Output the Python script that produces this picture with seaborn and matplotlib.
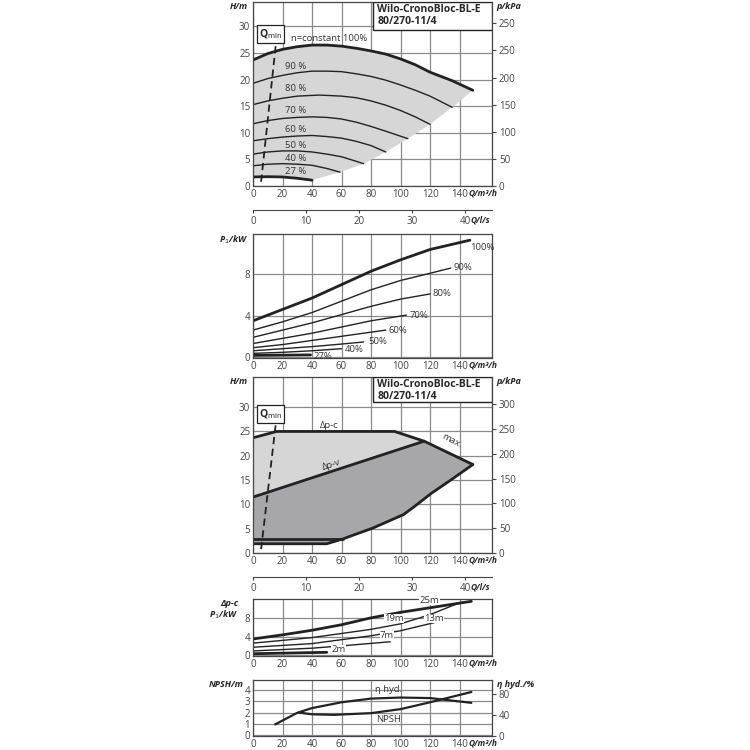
import numpy as np
import seaborn as sns
from matplotlib import pyplot as plt
from matplotlib.patches import Rectangle

sns.set_style("ticks")
plt.rcParams["font.family"] = ["Open Sans", "DejaVu Sans"]
plt.rcParams["font.size"] = 7

INK = "#222222"
GRID = "#8a8a8a"
XMAX = 162

# ---- panel 1: H over Q for speed steps
h_100_q = [0, 10, 20, 30, 40, 50, 60, 70, 80, 90, 100, 110, 120, 135, 149]
h_100 = [23.7, 24.9, 25.7, 26.2, 26.5, 26.5, 26.3, 25.9, 25.4, 24.8, 23.9, 22.8, 21.4, 19.8, 18.0]
h_curves = {
    "90 %": ([0, 10, 20, 30, 40, 50, 60, 70, 80, 90, 100, 110, 120, 135],
             [19.3, 20.2, 20.8, 21.3, 21.6, 21.6, 21.5, 21.1, 20.6, 19.9, 19.0, 18.0, 16.9, 14.8]),
    "80 %": ([0, 10, 20, 30, 45, 60, 70, 80, 90, 100, 110, 120],
             [15.3, 16.0, 16.5, 16.9, 17.1, 16.9, 16.6, 16.0, 15.2, 14.2, 13.0, 11.6]),
    "70 %": ([0, 10, 20, 30, 40, 50, 60, 70, 80, 90, 105],
             [11.7, 12.3, 12.7, 12.9, 13.0, 12.9, 12.6, 12.0, 11.2, 10.3, 8.9]),
    "60 %": ([0, 10, 20, 30, 40, 50, 60, 70, 80, 90],
             [8.5, 8.9, 9.2, 9.4, 9.5, 9.3, 9.0, 8.4, 7.6, 6.4]),
    "50 %": ([0, 10, 20, 30, 40, 50, 60, 67, 75],
             [6.0, 6.4, 6.6, 6.6, 6.4, 6.0, 5.5, 4.9, 4.2]),
    "40 %": ([0, 10, 20, 30, 40, 50, 59], [3.8, 4.1, 4.2, 4.1, 3.9, 3.3, 2.6]),
}
h_27_q = [0, 10, 20, 30, 40]
h_27 = [1.7, 1.75, 1.7, 1.45, 1.1]
edge_q = [40, 59, 75, 90, 105, 120, 135, 149]
edge_h = [1.1, 2.6, 4.2, 6.4, 8.9, 11.6, 14.8, 18.0]
h_label_pos = {"90 %": (22, 21.6), "80 %": (22, 17.4), "70 %": (22, 13.4),
               "60 %": (22, 9.7), "50 %": (22, 6.8), "40 %": (22, 4.3)}

# ---- panel 2: P1 over Q
p_curves = {
    "100%": ([0, 20, 40, 60, 80, 100, 120, 147], [3.5, 4.6, 5.7, 7.0, 8.3, 9.4, 10.4, 11.3]),
    "90%": ([0, 20, 40, 60, 80, 100, 120, 134], [2.6, 3.4, 4.3, 5.4, 6.5, 7.4, 8.1, 8.6]),
    "80%": ([0, 20, 40, 60, 80, 100, 120], [1.9, 2.6, 3.3, 4.1, 4.9, 5.6, 6.1]),
    "70%": ([0, 20, 40, 60, 80, 104], [1.3, 1.8, 2.3, 2.9, 3.5, 4.05]),
    "60%": ([0, 20, 40, 60, 90], [0.9, 1.2, 1.6, 2.0, 2.6]),
    "50%": ([0, 20, 40, 60, 75], [0.6, 0.8, 1.0, 1.25, 1.45]),
    "40%": ([0, 20, 40, 60], [0.35, 0.45, 0.6, 0.8]),
    "27%": ([0, 39], [0.15, 0.2]),
}
p_label_pos = {"100%": (147, 10.6), "90%": (136, 8.7), "80%": (122, 6.1), "70%": (106, 4.0),
               "60%": (92, 2.6), "50%": (78, 1.45), "40%": (62, 0.75), "27%": (41, 0.05)}

# ---- panel 3: control modes
dpc_q = [0, 16, 96, 116, 149]
dpc_h = [23.7, 25.0, 25.0, 23.0, 18.2]
dpv_q = [0, 116]
dpv_h = [11.5, 23.0]
low_q = [149, 135, 121, 110, 102, 90, 81, 70, 61, 50, 0]
low_h = [18.2, 15.2, 12.3, 9.7, 7.9, 6.3, 5.1, 3.9, 2.9, 1.9, 1.9]
min_q = [0, 61]
min_h = [2.9, 2.9]

# ---- panel 4: P1 for dp-c
c_curves = {
    "25m": ([0, 20, 40, 60, 80, 100, 120, 148], [3.5, 4.4, 5.4, 6.6, 8.1, 9.3, 10.3, 11.7]),
    "19m": ([0, 40, 80, 100, 120, 141], [2.6, 3.8, 5.6, 6.8, 8.8, 11.5]),
    "13m": ([0, 40, 80, 100, 126], [1.7, 2.5, 4.2, 5.3, 7.3]),
    "7m": ([0, 40, 60, 93], [0.9, 1.5, 2.0, 2.9]),
    "2m": ([0, 50], [0.3, 0.6]),
}
c_label_pos = {"25m": (113, 11.0), "19m": (89, 7.0), "13m": (116, 7.0), "7m": (86, 3.2), "2m": (53, 0.2)}

# ---- panel 5: NPSH and efficiency
npsh_q = [31, 40, 55, 80, 100, 120, 148]
npsh = [2.0, 1.85, 1.8, 1.95, 2.3, 2.9, 3.8]
eta_q = [15, 30, 40, 60, 80, 100, 120, 148]
eta = [22, 44, 53, 64, 71, 73, 72, 63]

q_ticks = [0, 20, 40, 60, 80, 100, 120, 140]
qmin_q = [5.5, 16]
qmin_h = [0.8, 28]


def px_axes(fig, top, bottom):
    return fig.add_axes([253 / 750, 1 - bottom / 750, 239 / 750, (bottom - top) / 750])


def line(ax, x, y, lw=1.0, **kw):
    sns.lineplot(x=x, y=y, ax=ax, color=INK, lw=lw, sort=False, legend=False, **kw)


def frame(ax, ylim, yticks, ylabel, xlabel=True, ylx=-0.02):
    ax.set_xlim(0, XMAX)
    ax.set_ylim(*ylim)
    ax.set_xticks(q_ticks)
    ax.set_yticks(yticks)
    ax.grid(True, color=GRID, lw=0.9)
    ax.set_axisbelow(True)
    for s in ax.spines.values():
        s.set_color("#444")
        s.set_linewidth(0.9)
    ax.tick_params(length=0, pad=2, colors="#444", labelsize=7)
    ax.set_xlabel("")
    ax.set_ylabel("")
    ax.text(ylx, 1.0, ylabel, transform=ax.transAxes, ha="right", va="top",
            fontweight="bold", style="italic", fontsize=6.5, linespacing=1.1)
    if xlabel:
        ax.annotate("Q/m³/h", xy=(0.9, 0), xycoords="axes fraction", xytext=(0, -2),
                    textcoords="offset points", ha="left", va="top",
                    fontweight="bold", style="italic", fontsize=6)


def right_axis(ax, top, ticks, labels, label):
    r = ax.twinx()
    r.set_ylim(0, top)
    r.set_yticks(ticks, labels)
    r.tick_params(length=3, pad=2, colors="#444", labelsize=7)
    r.text(1.02, 1.0, label, transform=ax.transAxes, ha="left", va="top",
           fontweight="bold", style="italic", fontsize=6.5)
    for s in r.spines.values():
        s.set_visible(False)
    return r


def qls_axis(fig, y):
    a = fig.add_axes([253 / 750, 1 - y / 750, 239 / 750, 0.001])
    a.set_xlim(0, XMAX / 3.6)
    a.set_xticks([0, 10, 20, 30, 40])
    a.set_yticks([])
    for k in ("left", "right", "top"):
        a.spines[k].set_visible(False)
    a.spines["bottom"].set_color("#444")
    a.tick_params(length=2, pad=2, colors="#444", labelsize=7)
    a.annotate("Q/l/s", xy=(0.91, 0), xycoords="axes fraction", xytext=(0, -4),
               textcoords="offset points", ha="left", va="top",
               fontweight="bold", style="italic", fontsize=6)
    a.patch.set_alpha(0)


def title_box(ax, height):
    ax.add_patch(Rectangle((0.5, 1 - height), 0.5, height, transform=ax.transAxes,
                           fc="white", ec=INK, lw=1.0, zorder=5))
    ax.text(0.52, 1 - 0.01, "Wilo-CronoBloc-BL-E\n80/270-11/4", transform=ax.transAxes,
            ha="left", va="top", fontweight="bold", fontsize=7.5, zorder=6, linespacing=1.2)


def qmin(ax):
    line(ax, qmin_q, qmin_h, lw=1.3, linestyle=(0, (4, 2.5)))
    ax.text(12, 28.6, "Q$_{\\mathrm{min}}$", ha="center", va="center", fontsize=7.5,
            fontweight="bold", bbox=dict(fc="white", ec=INK, lw=0.9, pad=1.5), zorder=6)


fig = plt.figure(figsize=(7.5, 7.5), dpi=100)

# panel 1
ax1 = px_axes(fig, 2, 186)
frame(ax1, (0, 34.6), [0, 5, 10, 15, 20, 25, 30], "H/m")
poly_q = h_100_q + edge_q[::-1] + h_27_q[::-1]
poly_h = h_100 + edge_h[::-1] + h_27[::-1]
ax1.fill(poly_q, poly_h, color="#d6d6d6", lw=0, zorder=1)
line(ax1, h_100_q, h_100, lw=2.0)
for name, (q, h) in h_curves.items():
    line(ax1, q, h, lw=1.0)
    x, y = h_label_pos[name]
    ax1.text(x, y, name, fontsize=6.8, ha="left", va="bottom", color="#333")
line(ax1, h_27_q, h_27, lw=2.0)
ax1.text(22, 1.9, "27 %", fontsize=6.8, ha="left", va="bottom", color="#333")
ax1.text(26, 26.8, "n=constant 100%", fontsize=6.8, ha="left", va="bottom", color="#333")
qmin(ax1)
title_box(ax1, 0.15)
right_axis(ax1, 34.6 * 9.81, [0, 50, 100, 150, 200, 250, 300],
           ["0", "50", "100", "150", "200", "250", "250"], "p/kPa")
qls_axis(fig, 210)

# panel 2
ax2 = px_axes(fig, 234, 358)
frame(ax2, (-0.1, 11.9), [0, 4, 8], "P$_1$/kW")
for name, (q, p) in p_curves.items():
    lw = 2.0 if name in ("100%", "27%") else 1.0
    line(ax2, q, p, lw=lw)
    x, y = p_label_pos[name]
    ax2.text(x, y, name, fontsize=6.8, ha="left", va="center", color="#333")

# panel 3
ax3 = px_axes(fig, 377, 553)
frame(ax3, (0, 36.2), [0, 5, 10, 15, 20, 25, 30], "H/m")
ax3.fill(dpc_q[:4] + dpv_q[::-1], dpc_h[:4] + dpv_h[::-1], color="#d6d6d6", lw=0, zorder=1)
ax3.fill(dpv_q + dpc_q[3:] + low_q[1:], dpv_h + dpc_h[3:] + low_h[1:],
         color="#a7a7ab", lw=0, zorder=1)
line(ax3, dpc_q, dpc_h, lw=2.0)
line(ax3, dpv_q, dpv_h, lw=2.0)
line(ax3, low_q, low_h, lw=2.0)
line(ax3, min_q, min_h, lw=2.0)
ax3.text(45, 25.4, "Δp-c", fontsize=6.8, ha="left", va="bottom", color="#333")
ax3.text(46, 16.6, "Δp-v", fontsize=6.8, ha="left", va="bottom", color="#333", rotation=18)
ax3.text(127, 21.3, "max.", fontsize=6.8, ha="left", va="bottom", color="#333", rotation=-28)
qmin(ax3)
title_box(ax3, 0.14)
right_axis(ax3, 36.2 * 9.81, [0, 50, 100, 150, 200, 250, 300],
           ["0", "50", "100", "150", "200", "250", "300"], "p/kPa")
qls_axis(fig, 577)

# panel 4
ax4 = px_axes(fig, 599, 656)
frame(ax4, (-0.2, 12.2), [0, 4, 8], "Δp-c\nP$_1$/kW", ylx=-0.06)
for name, (q, p) in c_curves.items():
    lw = 2.0 if name in ("25m", "2m") else 1.0
    line(ax4, q, p, lw=lw)
    x, y = c_label_pos[name]
    ax4.text(x, y, name, fontsize=6.8, ha="left", va="bottom", color="#333",
             bbox=dict(fc="white", ec="none", pad=0.2))

# panel 5
ax5 = px_axes(fig, 680, 736)
frame(ax5, (-0.05, 4.85), [0, 1, 2, 3, 4], "NPSH/m", ylx=-0.04)
line(ax5, npsh_q, npsh, lw=1.6)
ax5.text(92, 1.75, "NPSH", fontsize=6.8, ha="center", va="top", color="#333")
r5 = right_axis(ax5, 4.85 * 80 / 3.65, [0, 40, 80], ["0", "40", "80"], "η hyd./%")
line(r5, eta_q, eta, lw=1.6)
r5.text(92, 80, "η hyd.", fontsize=6.8, ha="center", va="bottom", color="#333")

fig.savefig("out.png", dpi=100)
